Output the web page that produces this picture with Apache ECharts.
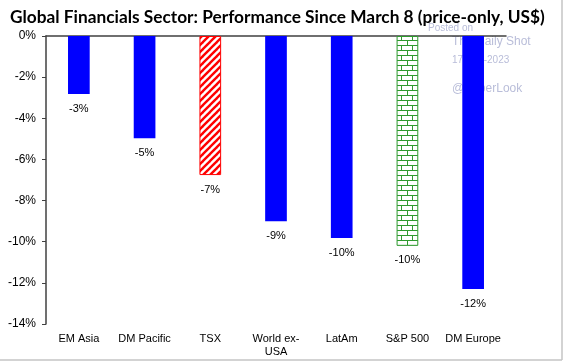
<!DOCTYPE html>
<html><head><meta charset="utf-8">
<script src="https://cdn.jsdelivr.net/npm/echarts@6/dist/echarts.min.js"></script>
<style>html,body{margin:0;padding:0;background:#fff}#c{width:564px;height:362px}</style>
</head><body><div id="c"></div>
<script>
const categories = ['EM Asia', 'DM Pacific', 'TSX', 'World ex-\nUSA', 'LatAm', 'S&P 500', 'DM Europe'];
const values = [-2.82, -4.97, -6.76, -9.0, -9.82, -10.2, -12.3];
const yTicks = { min: -14, max: 0, interval: 2 };

function stripes() {
  const c = document.createElement('canvas'); c.width = 7; c.height = 7;
  const g = c.getContext('2d');
  g.fillStyle = '#fff'; g.fillRect(0, 0, 7, 7);
  g.strokeStyle = '#ff0000'; g.lineWidth = 2.4;
  for (let k = -1; k <= 1; k++) {
    g.beginPath(); g.moveTo(k * 7 - 1, 8); g.lineTo(k * 7 + 8, -1); g.stroke();
  }
  return c;
}
function bricks() {
  const c = document.createElement('canvas'); c.width = 11; c.height = 10;
  const g = c.getContext('2d');
  g.fillStyle = '#fff'; g.fillRect(0, 0, 11, 10);
  g.fillStyle = '#2e9a2e';
  g.fillRect(0, 0, 11, 1); g.fillRect(0, 5, 11, 1);
  g.fillRect(0, 0, 1, 5); g.fillRect(5, 5, 1, 5);
  return c;
}

const colors = ['#0000ff', '#0000ff', {image: stripes(), repeat: 'repeat'}, '#0000ff', '#0000ff', {image: bricks(), repeat: 'repeat'}, '#0000ff'];
const borders = [null, null, '#ff0000', null, null, '#2e9a2e', null];

const chart = echarts.init(document.getElementById('c'));
const wm = '#b9bdd9';
chart.setOption({
  animation: false,
  title: {
    text: 'Global Financials Sector: Performance Since March 8 (price-only, US$)',
    left: 5, top: 4,
    textStyle: { fontFamily: 'Lato', fontWeight: 'bold', fontSize: 17.3, color: '#000' }
  },
  grid: { left: 46, right: 58, top: 36, bottom: 38 },
  xAxis: [{
    type: 'category', data: categories, position: 'top',
    axisLine: { lineStyle: { color: '#404040', width: 1.5 } },
    axisTick: { inside: true, length: 3, lineStyle: { color: '#404040' } },
    axisLabel: { show: false }
  }, {
    type: 'category', data: categories, position: 'bottom',
    axisLine: { show: false }, axisTick: { show: false },
    axisLabel: { fontFamily: 'Liberation Sans', fontSize: 11, color: '#000', margin: 8, lineHeight: 13, interval: 0 }
  }],
  yAxis: {
    type: 'value', min: yTicks.min, max: yTicks.max, interval: yTicks.interval,
    splitLine: { show: false },
    axisLine: { show: true, lineStyle: { color: '#404040', width: 1.5 } },
    axisTick: { show: true, length: 4, lineStyle: { color: '#404040' } },
    axisLabel: { formatter: '{value}%', fontFamily: 'Liberation Sans', fontSize: 12, color: '#000', margin: 10 }
  },
  graphic: [
    { type: 'text', left: 428, top: 23, z: 0, style: { text: 'Posted on', fill: wm, font: '10px Liberation Sans' } },
    { type: 'text', left: 452, top: 36, z: 0, style: { text: 'The Daily Shot', fill: wm, font: '12px Liberation Sans' } },
    { type: 'text', left: 452, top: 55, z: 0, style: { text: '17-Mar-2023', fill: wm, font: '10px Liberation Sans' } },
    { type: 'text', left: 452, top: 83, z: 0, style: { text: '@SoberLook', fill: wm, font: '12px Liberation Sans' } },
    { type: 'line', z: 0, shape: { x1: 562, y1: 0, x2: 562, y2: 360 }, style: { stroke: '#c4c4c4', lineWidth: 1.5 } },
    { type: 'line', z: 0, shape: { x1: 0, y1: 360, x2: 562, y2: 360 }, style: { stroke: '#c4c4c4', lineWidth: 1.5 } }
  ],
  series: [{
    type: 'bar', z: 5, xAxisIndex: 0,
    barWidth: '33%',
    data: values.map((v, i) => ({
      value: v,
      itemStyle: { color: colors[i], borderColor: borders[i] || undefined, borderWidth: borders[i] ? 1 : 0 }
    })),
    label: {
      show: true, position: 'bottom', distance: 9,
      formatter: p => Math.round(p.value) + '%',
      fontFamily: 'Liberation Sans', fontSize: 11, color: '#000'
    }
  }]
});
</script></body></html>
